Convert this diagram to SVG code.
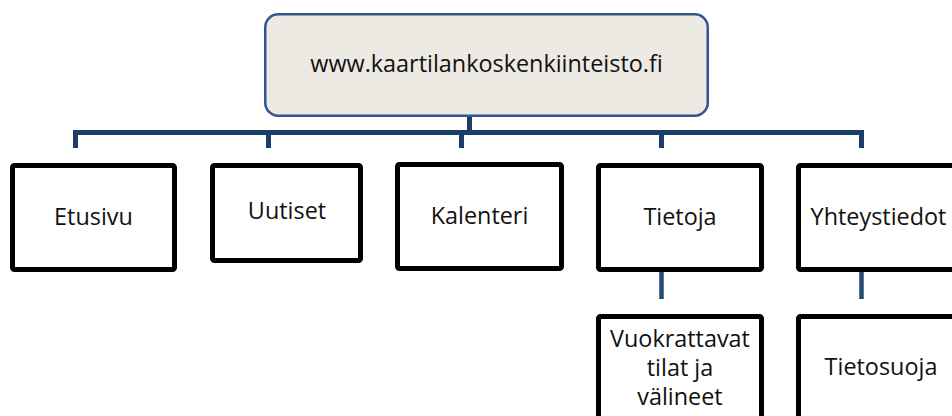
<svg xmlns="http://www.w3.org/2000/svg" width="952" height="416" viewBox="0 0 952 416">
<style>
.box{fill:#ffffff;stroke:#000000;stroke-width:5;}
.root{fill:#ECEAE3;stroke:#2E5690;stroke-width:2.5;}
.t{font-family:"Open Sans","Noto Sans",sans-serif;font-size:23.4px;fill:#111111;text-anchor:middle;}
.bus{stroke:#1E3D6B;stroke-width:5;fill:none;}
.sub{stroke:#27497A;stroke-width:4.5;fill:none;}
</style>
<rect width="952" height="416" fill="#ffffff"/>
<g id="connectors">
<line x1="469.5" y1="100" x2="469.5" y2="117" stroke="#D9DCD9" stroke-width="5"/>
<path class="bus" d="M75.5 148 V132.5 H861.5 V148 M268.5 132.5 V148 M461.5 132.5 V148 M661.5 132.5 V148 M469.5 116 V132.5"/>
<path class="sub" d="M661.5 272 V299 M861.5 272 V299"/>
</g>
<g id="root">
<rect class="root" x="265.25" y="14.25" width="442.5" height="101.5" rx="13"/>
<text class="t" x="486.5" y="72">www.kaartilankoskenkiinteisto.fi</text>
</g>
<g id="etusivu">
<rect class="box" x="12.5" y="165.5" width="162" height="104" rx="2"/>
<text class="t" x="93.5" y="225">Etusivu</text>
</g>
<g id="uutiset">
<rect class="box" x="212.5" y="165.5" width="148" height="95" rx="2"/>
<text class="t" x="287" y="219">Uutiset</text>
</g>
<g id="kalenteri">
<rect class="box" x="397.5" y="164.5" width="164" height="104" rx="2"/>
<text class="t" x="479.5" y="224">Kalenteri</text>
</g>
<g id="tietoja">
<rect class="box" x="598.5" y="165.5" width="163" height="104" rx="2"/>
<text class="t" x="680" y="225">Tietoja</text>
</g>
<g id="yhteystiedot">
<rect class="box" x="798.5" y="165.5" width="163" height="104" rx="2"/>
<text class="t" x="878.5" y="225">Yhteystiedot</text>
</g>
<g id="vuokrattavat">
<rect class="box" x="598.5" y="316.5" width="163" height="110" rx="2"/>
<text class="t" x="680" y="347">Vuokrattavat</text>
<text class="t" x="680" y="376">tilat ja</text>
<text class="t" x="680" y="405">välineet</text>
</g>
<g id="tietosuoja">
<rect class="box" x="798.5" y="316.5" width="163" height="110" rx="2"/>
<text class="t" x="881" y="375">Tietosuoja</text>
</g>
</svg>
